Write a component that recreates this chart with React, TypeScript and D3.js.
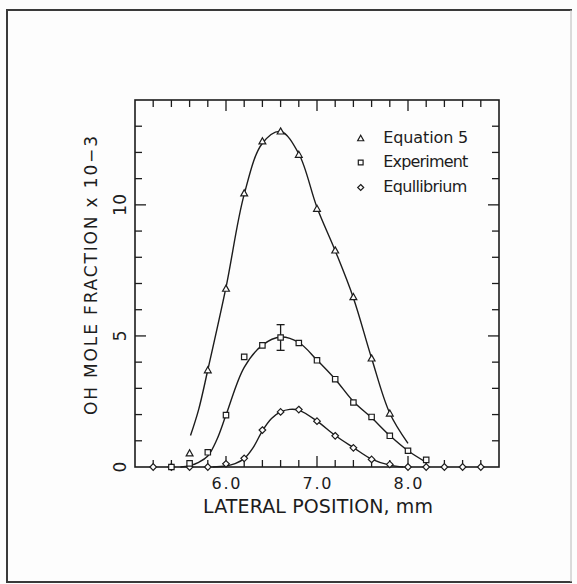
import React from 'react';
import * as d3 from 'd3';

const W = 577;
const H = 584;

// Measured OH mole fraction (x 10^-3) against lateral position (mm)
const eq5Pos = [5.6, 5.8, 6.0, 6.2, 6.4, 6.6, 6.8, 7.0, 7.2, 7.4, 7.6, 7.8];
const eq5Val = [0.52, 3.69, 6.8, 10.44, 12.42, 12.8, 11.91, 9.85, 8.26, 6.48, 4.14, 2.04];

const expPos = [5.4, 5.6, 5.8, 6.0, 6.2, 6.4, 6.6, 6.8, 7.0, 7.2, 7.4, 7.6, 7.8, 8.0, 8.2];
const expVal = [0.0, 0.14, 0.56, 1.98, 4.2, 4.64, 4.94, 4.73, 4.07, 3.35, 2.46, 1.91, 1.19, 0.62, 0.27];

const equilPos = [5.2, 5.4, 5.6, 5.8, 6.0, 6.2, 6.4, 6.6, 6.8, 7.0, 7.2, 7.4, 7.6, 7.8, 8.0, 8.2, 8.4, 8.6, 8.8];
const equilVal = [0, 0, 0, 0, 0.12, 0.33, 1.41, 2.1, 2.19, 1.75, 1.19, 0.73, 0.29, 0.1, 0, 0, 0, 0, 0];

// Smooth fitted curves
const eq5FitPos = [5.61, 5.7, 5.8, 6.0, 6.2, 6.4, 6.6, 6.8, 7.0, 7.2, 7.4, 7.6, 7.8, 8.0];
const eq5FitVal = [1.2, 2.2, 3.7, 6.85, 10.4, 12.35, 12.8, 11.95, 9.9, 8.25, 6.45, 4.15, 2.05, 0.9];

const expFitPos = [5.5, 5.6, 5.7, 5.8, 5.9, 6.0, 6.2, 6.4, 6.6, 6.8, 7.0, 7.2, 7.4, 7.6, 7.8, 8.0, 8.2];
const expFitVal = [0, 0.05, 0.18, 0.42, 1.05, 1.98, 3.8, 4.65, 4.96, 4.75, 4.08, 3.35, 2.5, 1.88, 1.2, 0.62, 0.18];

const equilFitPos = [5.85, 6.0, 6.1, 6.2, 6.3, 6.4, 6.5, 6.6, 6.7, 6.8, 7.0, 7.2, 7.4, 7.6, 7.8, 7.95];
const equilFitVal = [0, 0.04, 0.13, 0.32, 0.75, 1.38, 1.85, 2.1, 2.2, 2.17, 1.75, 1.2, 0.74, 0.3, 0.07, 0];

// Error bar on the experiment peak
const errPos = 6.6;
const errLow = 4.45;
const errHigh = 5.43;

// Axes
const xDomain = [5.0, 9.0];
const yDomain = [0, 14];
const xTicks = [5.2, 5.4, 5.6, 5.8, 6.0, 6.2, 6.4, 6.6, 6.8, 7.0, 7.2, 7.4, 7.6, 7.8, 8.0, 8.2, 8.4, 8.6, 8.8];
const xMajor = [6.0, 7.0, 8.0];
const xTickLabels = ['6.0', '7.0', '8.0'];
const yTicks = [1, 2, 3, 4, 5, 6, 7, 8, 9, 10, 11, 12, 13];
const yMajor = [0, 5, 10];
const yTickLabels = ['0', '5', '10'];

const legendLabels = ['Equation 5', 'Experiment', 'Equllibrium'];

const INK = '#1c1c1c';
const FONT = "'DejaVu Sans', sans-serif";

const triPath = (r: number) =>
  `M0,${-r}L${r * 0.95},${r * 0.7}L${-r * 0.95},${r * 0.7}Z`;
const sqPath = (s: number) => `M${-s},${-s}H${s}V${s}H${-s}Z`;
const diaPath = (r: number) => `M0,${-r}L${r},0L0,${r}L${-r},0Z`;

export default function App() {
  const left = 135, right = 499, top = 100, bottom = 467;
  const x = d3.scaleLinear().domain(xDomain).range([left, right]);
  const y = d3.scaleLinear().domain(yDomain).range([bottom, top]);

  const line = d3
    .line<[number, number]>()
    .x((d) => x(d[0]))
    .y((d) => y(d[1]))
    .curve(d3.curveCatmullRom.alpha(0.5));

  const zip = (a: number[], b: number[]) => a.map((v, i) => [v, b[i]] as [number, number]);

  const isMajorX = (v: number) => xMajor.some((m) => Math.abs(m - v) < 1e-6);
  const isMajorY = (v: number) => yMajor.includes(v);

  const minorLen = 7;
  const majorLen = 11;

  return (
    <svg
      width={W}
      height={H}
      style={{ position: 'absolute', left: 0, top: 0, background: '#fdfdfd' }}
      fontFamily={FONT}
    >
      <rect x={0} y={0} width={W} height={H} fill="#fdfdfd" />
      {/* outer figure border */}
      <line x1={7} y1={10} x2={7} y2={582} stroke="#3a3a3a" strokeWidth={2} />
      <line x1={6} y1={10} x2={572} y2={10} stroke="#3a3a3a" strokeWidth={2} />
      <line x1={6} y1={582} x2={572} y2={582} stroke="#3a3a3a" strokeWidth={2} />
      <line x1={571} y1={10} x2={571} y2={582} stroke="#b8b8b8" strokeWidth={1} />

      {/* plot frame */}
      <rect x={left} y={top} width={right - left} height={bottom - top} fill="none" stroke={INK} strokeWidth={1.6} />

      {/* x ticks (top and bottom, inward) */}
      {xTicks.map((v) => {
        const len = isMajorX(v) ? majorLen : minorLen;
        return (
          <g key={'xt' + v} stroke={INK} strokeWidth={1.3}>
            <line x1={x(v)} x2={x(v)} y1={top} y2={top + len} />
            <line x1={x(v)} x2={x(v)} y1={bottom} y2={bottom - len} />
          </g>
        );
      })}
      {/* y ticks (left and right, inward) */}
      {yTicks.map((v) => {
        const len = isMajorY(v) ? majorLen : minorLen;
        return (
          <g key={'yt' + v} stroke={INK} strokeWidth={1.3}>
            <line x1={left} x2={left + len} y1={y(v)} y2={y(v)} />
            <line x1={right} x2={right - len} y1={y(v)} y2={y(v)} />
          </g>
        );
      })}

      {/* x tick labels */}
      {xMajor.map((v, i) => (
        <text
          key={'xl' + v}
          x={x(v)}
          y={489}
          textAnchor="middle"
          fontSize={16}
          fill={INK}
          textLength={29}
          lengthAdjust="spacing"
        >
          {xTickLabels[i]}
        </text>
      ))}
      {/* y tick labels (rotated) */}
      {yMajor.map((v, i) => (
        <text
          key={'yl' + v}
          transform={`translate(125.5,${y(v)}) rotate(-90)`}
          textAnchor="middle"
          fontSize={17}
          fill={INK}
        >
          {yTickLabels[i]}
        </text>
      ))}

      {/* axis titles */}
      <text
        x={318}
        y={513}
        textAnchor="middle"
        fontSize={19}
        fill={INK}
        textLength={230}
        lengthAdjust="spacing"
      >
        LATERAL POSITION, mm
      </text>
      <text
        transform="translate(96.5,275.5) rotate(-90)"
        textAnchor="middle"
        fontSize={17}
        fill={INK}
        textLength={279}
        lengthAdjust="spacing"
      >
        OH MOLE FRACTION x 10−3
      </text>

      {/* fitted curves */}
      <g fill="none" stroke={INK} strokeWidth={1.4}>
        <path d={line(zip(eq5FitPos, eq5FitVal)) || ''} />
        <path d={line(zip(expFitPos, expFitVal)) || ''} />
        <path d={line(zip(equilFitPos, equilFitVal)) || ''} />
      </g>

      {/* error bar */}
      <g stroke={INK} strokeWidth={1.3}>
        <line x1={x(errPos)} x2={x(errPos)} y1={y(errLow)} y2={y(errHigh)} />
        <line x1={x(errPos) - 4} x2={x(errPos) + 4} y1={y(errLow)} y2={y(errLow)} />
        <line x1={x(errPos) - 4} x2={x(errPos) + 4} y1={y(errHigh)} y2={y(errHigh)} />
      </g>

      {/* data markers */}
      <g fill="#fdfdfd" stroke={INK} strokeWidth={1.2}>
        {equilPos.map((p, i) => (
          <path key={'d' + i} d={diaPath(3.3)} transform={`translate(${x(p)},${y(equilVal[i])})`} />
        ))}
        {expPos.map((p, i) => (
          <path key={'s' + i} d={sqPath(2.7)} transform={`translate(${x(p)},${y(expVal[i])})`} />
        ))}
        {eq5Pos.map((p, i) => (
          <path key={'t' + i} d={triPath(3.6)} transform={`translate(${x(p)},${y(eq5Val[i])})`} />
        ))}
      </g>

      {/* legend */}
      <g fill="#fdfdfd" stroke={INK} strokeWidth={1.2}>
        <path d={triPath(3.2)} transform="translate(360.7,138.5)" />
        <path d={sqPath(2.4)} transform="translate(360.7,162.5)" />
        <path d={diaPath(3)} transform="translate(360.7,187.5)" />
      </g>
      {legendLabels.map((t, i) => (
        <text
          key={t}
          x={383.3}
          y={142.7 + i * 24.4}
          fontSize={16}
          fill={INK}
          textLength={i === 2 ? 84 : 85}
          lengthAdjust="spacing"
        >
          {t}
        </text>
      ))}
    </svg>
  );
}
